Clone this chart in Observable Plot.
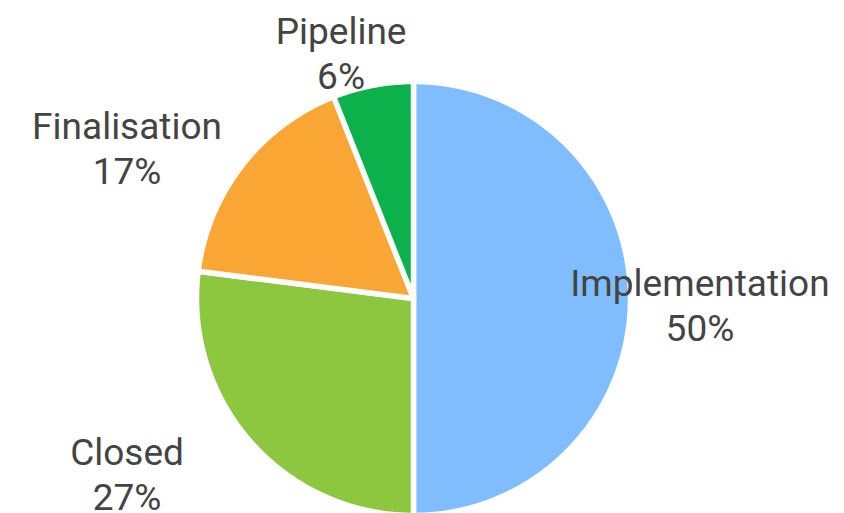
<!DOCTYPE html>
<html>
<head>
<meta charset="utf-8">
<script src="https://cdn.jsdelivr.net/npm/d3@7"></script>
<script src="https://cdn.jsdelivr.net/npm/@observablehq/plot@0.6"></script>
<style>
  html, body { margin: 0; padding: 0; background: #fff; }
  #chart { width: 844px; height: 513px; overflow: hidden; }
</style>
</head>
<body>
<div id="chart"></div>
<script>
// Data
const categories = ["Implementation", "Closed", "Finalisation", "Pipeline"];
const shares = [50, 27, 17, 6];
const colors = ["#7fbdff", "#8dc63f", "#f9a634", "#0db14b"];

// Layout (pixels)
const W = 844, H = 513, cx = 413, cy = 298, R = 217;

const total = d3.sum(shares);
const pie = d3.pie().sort(null).value(d => d.value)(
  categories.map((c, i) => ({label: c, value: shares[i]}))
);

// slice outlines in unit-radius coordinates (y up), 0 at top, clockwise
const slicePts = [];
for (const s of pie) {
  const n = Math.max(2, Math.ceil((s.endAngle - s.startAngle) / (Math.PI / 360)));
  slicePts.push({label: s.data.label, x: 0, y: 0});
  for (let k = 0; k <= n; k++) {
    const a = s.startAngle + (s.endAngle - s.startAngle) * k / n;
    slicePts.push({label: s.data.label, x: Math.sin(a), y: Math.cos(a)});
  }
}

// label anchors derived from mid-angles
const labels = pie.map(s => {
  const a = (s.startAngle + s.endAngle) / 2;
  const sx = Math.sin(a), cs = Math.cos(a);
  return {
    label: s.data.label,
    text: `${s.data.label}\n${Math.round(s.data.value / total * 100)}%`,
    x: 1.32 * Math.sign(sx) * Math.min(1, 1.35 * Math.abs(sx)),
    y: 1.18 * cs - 0.025
  };
});

const chart = Plot.plot({
  width: W,
  height: H,
  margin: 0,
  style: {background: "#fff", overflow: "visible"},
  x: {domain: [-1, 1], range: [cx - R, cx + R], axis: null},
  y: {domain: [-1, 1], range: [cy + R, cy - R], axis: null},
  color: {domain: categories, range: colors},
  marks: [
    Plot.line(slicePts, {
      x: "x", y: "y", z: "label", fill: "label",
      stroke: "white", strokeWidth: 5.5, strokeLinejoin: "round",
      curve: "linear-closed"
    }),
    Plot.text(labels, {
      x: "x", y: "y", text: "text",
      fontSize: 37, lineHeight: 1.22,
      fontFamily: "Roboto", fill: "#444", textAnchor: "middle"
    })
  ]
});
document.getElementById("chart").append(chart);
</script>
</body>
</html>
